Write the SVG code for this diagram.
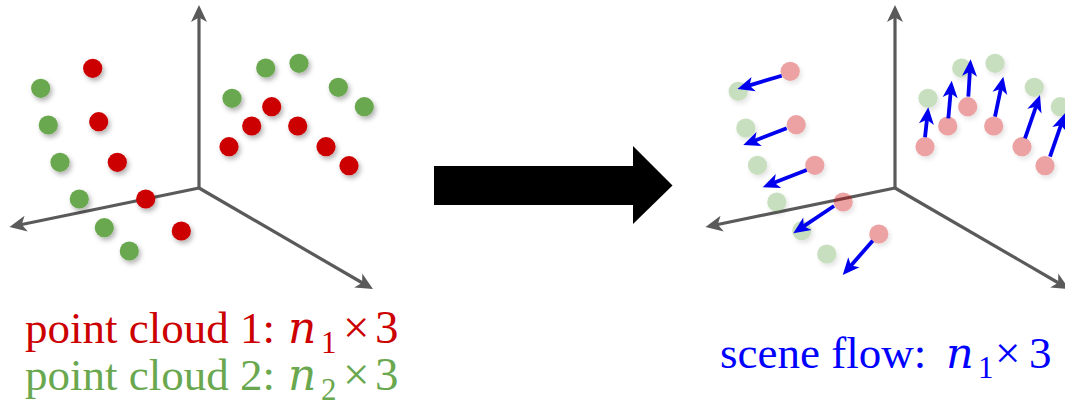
<svg xmlns="http://www.w3.org/2000/svg" xmlns:xlink="http://www.w3.org/1999/xlink" width="1065" height="415" viewBox="0 0 1065 415">
  <style>
    .axis { stroke: #5a5a5a; stroke-width: 3.2; fill: none; marker-end: url(#axisHead); }
    .flow { stroke: #0000ee; stroke-width: 3.8; fill: none; marker-end: url(#flowHead); }
    .red { fill: #cc0000; }
    .green { fill: #6aa84f; }
    .dot { filter: url(#soft); }
    .label { font-family: "Liberation Serif", "Times New Roman", serif; font-size: 45px; }
    .math { font-family: "DejaVu Serif", "Liberation Serif", serif; font-style: italic; }
    .sub { font-family: "Liberation Serif", "Times New Roman", serif; font-size: 31px; }
    .op { font-size: 47px; }
  </style>
  <defs>
    <filter id="soft" x="-60%" y="-60%" width="220%" height="220%">
      <feDropShadow dx="2" dy="3" stdDeviation="2.6" flood-color="#000" flood-opacity="0.3"/>
    </filter>
    <marker id="axisHead" markerUnits="userSpaceOnUse" markerWidth="30" markerHeight="30" refX="0" refY="0" orient="auto" overflow="visible">
      <path d="M10,0 L-7,-8 L-2.5,0 L-7,8 Z" fill="#5a5a5a"/>
    </marker>
    <marker id="flowHead" markerUnits="userSpaceOnUse" markerWidth="30" markerHeight="30" refX="0" refY="0" orient="auto" overflow="visible">
      <path d="M10,0 L-7,-7.5 L-2.5,0 L-7,7.5 Z" fill="#0000ee"/>
    </marker>
    <!-- points on the front-left wall -->
    <g id="frontPts">
      <circle class="dot red" cx="92.7" cy="68.3" r="9.6"/>
      <circle class="dot red" cx="98.7" cy="121.7" r="9.6"/>
      <circle class="dot red" cx="117.3" cy="162.3" r="9.6"/>
      <circle class="dot red" cx="145.7" cy="199" r="9.6"/>
      <circle class="dot red" cx="181.3" cy="231" r="9.6"/>
      <circle class="dot green" cx="40.7" cy="88.3" r="9.6"/>
      <circle class="dot green" cx="48.3" cy="125" r="9.6"/>
      <circle class="dot green" cx="60" cy="162.3" r="9.6"/>
      <circle class="dot green" cx="79.3" cy="199" r="9.6"/>
      <circle class="dot green" cx="104.3" cy="227.7" r="9.6"/>
      <circle class="dot green" cx="129.3" cy="251" r="9.6"/>
    </g>
    <!-- points on the back-right wall -->
    <g id="backPts">
      <circle class="dot red" cx="271.7" cy="106.7" r="9.6"/>
      <circle class="dot red" cx="251.7" cy="126" r="9.6"/>
      <circle class="dot red" cx="297.7" cy="126" r="9.6"/>
      <circle class="dot red" cx="229" cy="146.7" r="9.6"/>
      <circle class="dot red" cx="326" cy="146.7" r="9.6"/>
      <circle class="dot red" cx="349" cy="165.7" r="9.6"/>
      <circle class="dot green" cx="265.7" cy="68" r="9.6"/>
      <circle class="dot green" cx="299" cy="63.3" r="9.6"/>
      <circle class="dot green" cx="232" cy="98.3" r="9.6"/>
      <circle class="dot green" cx="338.3" cy="87.3" r="9.6"/>
      <circle class="dot green" cx="364.3" cy="106.7" r="9.6"/>
    </g>
    <g id="axes3d">
      <line class="axis" x1="199" y1="188" x2="199" y2="15"/>
      <line class="axis" x1="199" y1="188" x2="19.3" y2="225"/>
      <line class="axis" x1="199" y1="188" x2="364.3" y2="284"/>
    </g>
  </defs>

  <!-- input: two point clouds -->
  <g id="input-clouds">
    <use xlink:href="#axes3d"/>
    <use xlink:href="#frontPts"/>
    <use xlink:href="#backPts"/>
  </g>

  <!-- transition arrow -->
  <g id="big-arrow">
    <polygon points="434,166 633,166 633,146 672.5,185.5 633,224 633,205 434,205" fill="#000"/>
  </g>

  <!-- output: scene flow vectors -->
  <g id="scene-flow">
    <use xlink:href="#axes3d" transform="translate(696,0)"/>
    <use xlink:href="#frontPts" transform="translate(697.5,3)" opacity="0.36"/>
    <use xlink:href="#backPts" transform="translate(696,0)" opacity="0.36"/>
  </g>

  <g id="connectors">
    <line class="flow" x1="781.7" y1="75.7" x2="747" y2="86.1"/>
    <line class="flow" x1="786.7" y1="128.3" x2="752.6" y2="141.4"/>
    <line class="flow" x1="806.7" y1="170" x2="772" y2="183.6"/>
    <line class="flow" x1="834" y1="206" x2="801.6" y2="227.7"/>
    <line class="flow" x1="872.7" y1="240.7" x2="849.3" y2="267.5"/>
    <line class="flow" x1="925" y1="137.3" x2="927.2" y2="117.2"/>
    <line class="flow" x1="948.3" y1="118.3" x2="950.8" y2="90.7"/>
    <line class="flow" x1="968.3" y1="96.7" x2="970" y2="69.3"/>
    <line class="flow" x1="995" y1="116.7" x2="1001.3" y2="86.5"/>
    <line class="flow" x1="1025" y1="138.3" x2="1036.7" y2="104.5"/>
    <line class="flow" x1="1050" y1="156.7" x2="1061.7" y2="122.8"/>
  </g>

  <!-- captions -->
  <g id="caption-cloud1">
    <text class="label" x="25" y="343" fill="#cc0000">point cloud 1: <tspan class="math" x="288" font-size="44">n</tspan><tspan class="sub" x="321" dy="10">1</tspan><tspan class="op" x="343" dy="-10">×</tspan><tspan class="op" x="375">3</tspan></text>
  </g>
  <g id="caption-cloud2">
    <text class="label" x="25" y="390" fill="#6aa84f">point cloud 2: <tspan class="math" x="288" font-size="44">n</tspan><tspan class="sub" x="321" dy="10">2</tspan><tspan class="op" x="343" dy="-10">×</tspan><tspan class="op" x="375">3</tspan></text>
  </g>
  <g id="caption-flow">
    <text class="label" x="720" y="368" fill="#0000ff" font-size="48">scene flow: <tspan class="math" x="946" font-size="43">n</tspan><tspan class="sub" x="978" dy="10">1</tspan><tspan x="995" dy="-10">×</tspan><tspan x="1029">3</tspan></text>
  </g>
</svg>
